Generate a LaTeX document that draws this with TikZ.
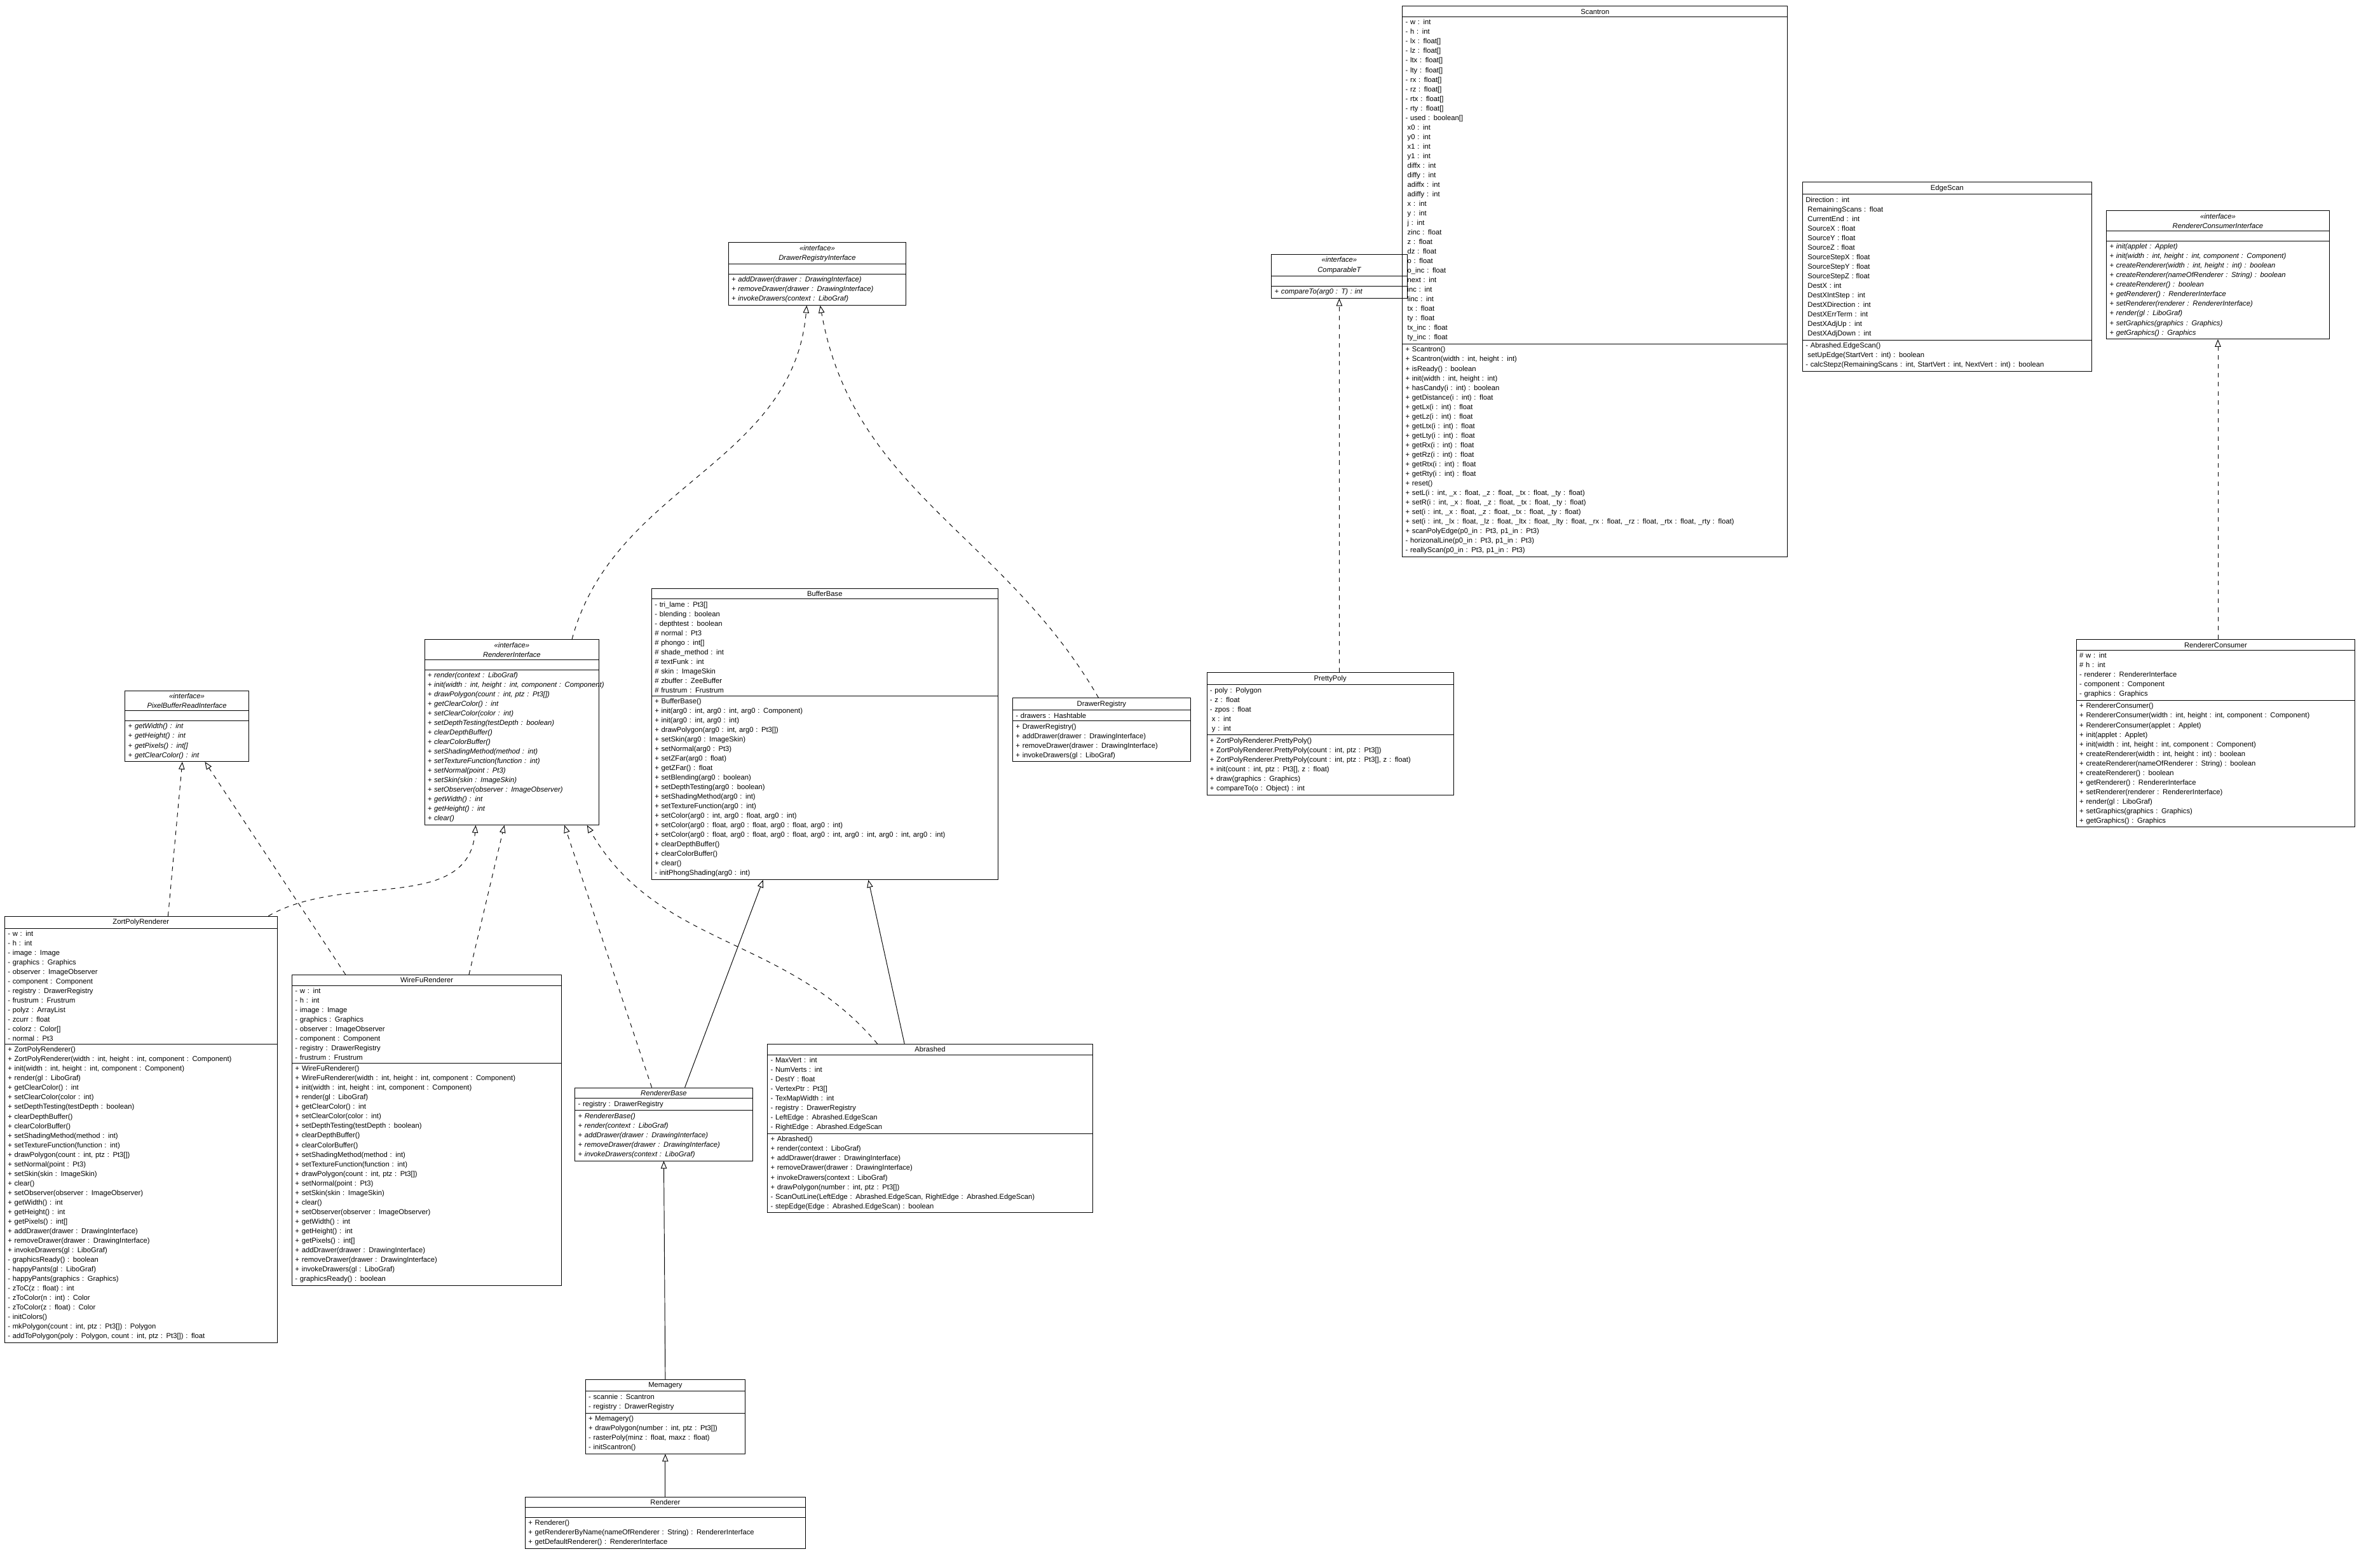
\documentclass[tikz,border=0pt]{standalone}
\usepackage{fontspec}
\setmainfont{Liberation Sans}
\usetikzlibrary{arrows.meta,shapes.multipart}

\tikzset{
  umlclass/.style={draw, rectangle split, rectangle split parts=3, anchor=north west,
    text width=#1, align=left, inner xsep=2pt, inner ysep=1.6pt,
    font=\fontsize{4.75}{6.35}\selectfont},
  realize/.style={dash pattern=on 3pt off 3pt, -{Triangle[open,length=5pt,width=4pt]}},
  inherit/.style={-{Triangle[open,length=5pt,width=4pt]}}
}
\newcommand{\emptypart}{\rule{0pt}{3pt}}
\newcommand{\ctitle}[1]{\makebox[\linewidth]{#1}}
\newcommand{\ind}{\hspace*{1.3pt}}

\begin{document}
\begin{tikzpicture}[x=1pt,y=-1pt]
  \useasboundingbox (0,0) rectangle (1568,1042.5);

  \node[umlclass=252] at (932,4) (scantron) {\ctitle{Scantron}
    \nodepart{two}- w : int\\- h : int\\- lx : float[]\\- lz : float[]\\- ltx : float[]\\- lty : float[]\\- rx : float[]\\- rz : float[]\\- rtx : float[]\\- rty : float[]\\- used : boolean[]\\\ind x0 : int\\\ind y0 : int\\\ind x1 : int\\\ind y1 : int\\\ind diffx : int\\\ind diffy : int\\\ind adiffx : int\\\ind adiffy : int\\\ind x : int\\\ind y : int\\\ind j : int\\\ind zinc : float\\\ind z : float\\\ind dz : float\\\ind o : float\\\ind o\_inc : float\\\ind next : int\\\ind inc : int\\\ind linc : int\\\ind tx : float\\\ind ty : float\\\ind tx\_inc : float\\\ind ty\_inc : float
    \nodepart{three}+ Scantron()\\+ Scantron(width : int, height : int)\\+ isReady() : boolean\\+ init(width : int, height : int)\\+ hasCandy(i : int) : boolean\\+ getDistance(i : int) : float\\+ getLx(i : int) : float\\+ getLz(i : int) : float\\+ getLtx(i : int) : float\\+ getLty(i : int) : float\\+ getRx(i : int) : float\\+ getRz(i : int) : float\\+ getRtx(i : int) : float\\+ getRty(i : int) : float\\+ reset()\\+ setL(i : int, \_x : float, \_z : float, \_tx : float, \_ty : float)\\+ setR(i : int, \_x : float, \_z : float, \_tx : float, \_ty : float)\\+ set(i : int, \_x : float, \_z : float, \_tx : float, \_ty : float)\\+ set(i : int, \_lx : float, \_lz : float, \_ltx : float, \_lty : float, \_rx : float, \_rz : float, \_rtx : float, \_rty : float)\\+ scanPolyEdge(p0\_in : Pt3, p1\_in : Pt3)\\- horizonalLine(p0\_in : Pt3, p1\_in : Pt3)\\- reallyScan(p0\_in : Pt3, p1\_in : Pt3)};

  \node[umlclass=188] at (1198,121) (edgescan) {\ctitle{EdgeScan}
    \nodepart{two}Direction : int\\\ind RemainingScans : float\\\ind CurrentEnd : int\\\ind SourceX : float\\\ind SourceY : float\\\ind SourceZ : float\\\ind SourceStepX : float\\\ind SourceStepY : float\\\ind SourceStepZ : float\\\ind DestX : int\\\ind DestXIntStep : int\\\ind DestXDirection : int\\\ind DestXErrTerm : int\\\ind DestXAdjUp : int\\\ind DestXAdjDown : int
    \nodepart{three}- Abrashed.EdgeScan()\\\ind setUpEdge(StartVert : int) : boolean\\- calcStepz(RemainingScans : int, StartVert : int, NextVert : int) : boolean};

  \node[umlclass=144] at (1400,140) (consumeriface) {\ctitle{\itshape «interface»}\\\ctitle{\itshape RendererConsumerInterface}
    \nodepart{two}\emptypart
    \nodepart{three}\itshape + init(applet : Applet)\\+ init(width : int, height : int, component : Component)\\+ createRenderer(width : int, height : int) : boolean\\+ createRenderer(nameOfRenderer : String) : boolean\\+ createRenderer() : boolean\\+ getRenderer() : RendererInterface\\+ setRenderer(renderer : RendererInterface)\\+ render(gl : LiboGraf)\\+ setGraphics(graphics : Graphics)\\+ getGraphics() : Graphics};

  \node[umlclass=86] at (845,169) (comparable) {\ctitle{\itshape «interface»}\\\ctitle{\itshape ComparableT}
    \nodepart{two}\emptypart
    \nodepart{three}\itshape + compareTo(arg0 : T) : int};

  \node[umlclass=114] at (484,161) (registryiface) {\ctitle{\itshape «interface»}\\\ctitle{\itshape DrawerRegistryInterface}
    \nodepart{two}\emptypart
    \nodepart{three}\itshape + addDrawer(drawer : DrawingInterface)\\+ removeDrawer(drawer : DrawingInterface)\\+ invokeDrawers(context : LiboGraf)};

  \node[umlclass=78] at (83,459) (pixeliface) {\ctitle{\itshape «interface»}\\\ctitle{\itshape PixelBufferReadInterface}
    \nodepart{two}\emptypart
    \nodepart{three}\itshape + getWidth() : int\\+ getHeight() : int\\+ getPixels() : int[]\\+ getClearColor() : int};

  \node[umlclass=112] at (282,425) (rendiface) {\ctitle{\itshape «interface»}\\\ctitle{\itshape RendererInterface}
    \nodepart{two}\emptypart
    \nodepart{three}\itshape + render(context : LiboGraf)\\\mbox{+ init(width : int, height : int, component : Component)}\\+ drawPolygon(count : int, ptz : Pt3[])\\+ getClearColor() : int\\+ setClearColor(color : int)\\+ setDepthTesting(testDepth : boolean)\\+ clearDepthBuffer()\\+ clearColorBuffer()\\+ setShadingMethod(method : int)\\+ setTextureFunction(function : int)\\+ setNormal(point : Pt3)\\+ setSkin(skin : ImageSkin)\\+ setObserver(observer : ImageObserver)\\+ getWidth() : int\\+ getHeight() : int\\+ clear()};

  \node[umlclass=226] at (433,391) (bufferbase) {\ctitle{BufferBase}
    \nodepart{two}- tri\_lame : Pt3[]\\- blending : boolean\\- depthtest : boolean\\\# normal : Pt3\\\# phongo : int[]\\\# shade\_method : int\\\# textFunk : int\\\# skin : ImageSkin\\\# zbuffer : ZeeBuffer\\\# frustrum : Frustrum
    \nodepart{three}+ BufferBase()\\+ init(arg0 : int, arg0 : int, arg0 : Component)\\+ init(arg0 : int, arg0 : int)\\+ drawPolygon(arg0 : int, arg0 : Pt3[])\\+ setSkin(arg0 : ImageSkin)\\+ setNormal(arg0 : Pt3)\\+ setZFar(arg0 : float)\\+ getZFar() : float\\+ setBlending(arg0 : boolean)\\+ setDepthTesting(arg0 : boolean)\\+ setShadingMethod(arg0 : int)\\+ setTextureFunction(arg0 : int)\\+ setColor(arg0 : int, arg0 : float, arg0 : int)\\+ setColor(arg0 : float, arg0 : float, arg0 : float, arg0 : int)\\+ setColor(arg0 : float, arg0 : float, arg0 : float, arg0 : int, arg0 : int, arg0 : int, arg0 : int)\\+ clearDepthBuffer()\\+ clearColorBuffer()\\+ clear()\\- initPhongShading(arg0 : int)};

  \node[umlclass=114] at (673,464) (registry) {\ctitle{DrawerRegistry}
    \nodepart{two}- drawers : Hashtable
    \nodepart{three}+ DrawerRegistry()\\+ addDrawer(drawer : DrawingInterface)\\+ removeDrawer(drawer : DrawingInterface)\\+ invokeDrawers(gl : LiboGraf)};

  \node[umlclass=160] at (802,447) (prettypoly) {\ctitle{PrettyPoly}
    \nodepart{two}- poly : Polygon\\- z : float\\- zpos : float\\\ind x : int\\\ind y : int
    \nodepart{three}+ ZortPolyRenderer.PrettyPoly()\\+ ZortPolyRenderer.PrettyPoly(count : int, ptz : Pt3[])\\+ ZortPolyRenderer.PrettyPoly(count : int, ptz : Pt3[], z : float)\\+ init(count : int, ptz : Pt3[], z : float)\\+ draw(graphics : Graphics)\\+ compareTo(o : Object) : int};

  \node[umlclass=181] at (1380,425) (consumer) {\ctitle{RendererConsumer}
    \nodepart{two}\# w : int\\\# h : int\\- renderer : RendererInterface\\- component : Component\\- graphics : Graphics
    \nodepart{three}+ RendererConsumer()\\+ RendererConsumer(width : int, height : int, component : Component)\\+ RendererConsumer(applet : Applet)\\+ init(applet : Applet)\\+ init(width : int, height : int, component : Component)\\+ createRenderer(width : int, height : int) : boolean\\+ createRenderer(nameOfRenderer : String) : boolean\\+ createRenderer() : boolean\\+ getRenderer() : RendererInterface\\+ setRenderer(renderer : RendererInterface)\\+ render(gl : LiboGraf)\\+ setGraphics(graphics : Graphics)\\+ getGraphics() : Graphics};

  \node[umlclass=177] at (3,609) (zort) {\ctitle{ZortPolyRenderer}
    \nodepart{two}- w : int\\- h : int\\- image : Image\\- graphics : Graphics\\- observer : ImageObserver\\- component : Component\\- registry : DrawerRegistry\\- frustrum : Frustrum\\- polyz : ArrayList\\- zcurr : float\\- colorz : Color[]\\- normal : Pt3
    \nodepart{three}+ ZortPolyRenderer()\\+ ZortPolyRenderer(width : int, height : int, component : Component)\\+ init(width : int, height : int, component : Component)\\+ render(gl : LiboGraf)\\+ getClearColor() : int\\+ setClearColor(color : int)\\+ setDepthTesting(testDepth : boolean)\\+ clearDepthBuffer()\\+ clearColorBuffer()\\+ setShadingMethod(method : int)\\+ setTextureFunction(function : int)\\+ drawPolygon(count : int, ptz : Pt3[])\\+ setNormal(point : Pt3)\\+ setSkin(skin : ImageSkin)\\+ clear()\\+ setObserver(observer : ImageObserver)\\+ getWidth() : int\\+ getHeight() : int\\+ getPixels() : int[]\\+ addDrawer(drawer : DrawingInterface)\\+ removeDrawer(drawer : DrawingInterface)\\+ invokeDrawers(gl : LiboGraf)\\- graphicsReady() : boolean\\- happyPants(gl : LiboGraf)\\- happyPants(graphics : Graphics)\\- zToC(z : float) : int\\- zToColor(n : int) : Color\\- zToColor(z : float) : Color\\- initColors()\\- mkPolygon(count : int, ptz : Pt3[]) : Polygon\\- addToPolygon(poly : Polygon, count : int, ptz : Pt3[]) : float};

  \node[umlclass=175] at (194,648) (wirefu) {\ctitle{WireFuRenderer}
    \nodepart{two}- w : int\\- h : int\\- image : Image\\- graphics : Graphics\\- observer : ImageObserver\\- component : Component\\- registry : DrawerRegistry\\- frustrum : Frustrum
    \nodepart{three}+ WireFuRenderer()\\+ WireFuRenderer(width : int, height : int, component : Component)\\+ init(width : int, height : int, component : Component)\\+ render(gl : LiboGraf)\\+ getClearColor() : int\\+ setClearColor(color : int)\\+ setDepthTesting(testDepth : boolean)\\+ clearDepthBuffer()\\+ clearColorBuffer()\\+ setShadingMethod(method : int)\\+ setTextureFunction(function : int)\\+ drawPolygon(count : int, ptz : Pt3[])\\+ setNormal(point : Pt3)\\+ setSkin(skin : ImageSkin)\\+ clear()\\+ setObserver(observer : ImageObserver)\\+ getWidth() : int\\+ getHeight() : int\\+ getPixels() : int[]\\+ addDrawer(drawer : DrawingInterface)\\+ removeDrawer(drawer : DrawingInterface)\\+ invokeDrawers(gl : LiboGraf)\\- graphicsReady() : boolean};

  \node[umlclass=114] at (382,723) (rendbase) {\ctitle{\itshape RendererBase}
    \nodepart{two}- registry : DrawerRegistry
    \nodepart{three}\itshape + RendererBase()\\+ render(context : LiboGraf)\\+ addDrawer(drawer : DrawingInterface)\\+ removeDrawer(drawer : DrawingInterface)\\+ invokeDrawers(context : LiboGraf)};

  \node[umlclass=212] at (510,694) (abrashed) {\ctitle{Abrashed}
    \nodepart{two}- MaxVert : int\\- NumVerts : int\\- DestY : float\\- VertexPtr : Pt3[]\\- TexMapWidth : int\\- registry : DrawerRegistry\\- LeftEdge : Abrashed.EdgeScan\\- RightEdge : Abrashed.EdgeScan
    \nodepart{three}+ Abrashed()\\+ render(context : LiboGraf)\\+ addDrawer(drawer : DrawingInterface)\\+ removeDrawer(drawer : DrawingInterface)\\+ invokeDrawers(context : LiboGraf)\\+ drawPolygon(number : int, ptz : Pt3[])\\- ScanOutLine(LeftEdge : Abrashed.EdgeScan, RightEdge : Abrashed.EdgeScan)\\- stepEdge(Edge : Abrashed.EdgeScan) : boolean};

  \node[umlclass=102] at (389,917) (memagery) {\ctitle{Memagery}
    \nodepart{two}- scannie : Scantron\\- registry : DrawerRegistry
    \nodepart{three}+ Memagery()\\+ drawPolygon(number : int, ptz : Pt3[])\\- rasterPoly(minz : float, maxz : float)\\- initScantron()};

  \node[umlclass=182] at (349,995) (renderer) {\ctitle{Renderer}
    \nodepart{two}\emptypart
    \nodepart{three}+ Renderer()\\+ getRendererByName(nameOfRenderer : String) : RendererInterface\\+ getDefaultRenderer() : RendererInterface};

  % realizations
  \draw[realize] ([xshift=40pt]rendiface.north) to[out=75,in=-95] ([xshift=-7pt]registryiface.south);
  \draw[realize] ([xshift=-2pt]registry.north) to[out=120,in=-80] ([xshift=2pt]registryiface.south);
  \draw[realize] (prettypoly.north -| comparable.south) -- (comparable.south);
  \draw[realize] (consumer.north -| consumeriface.south) -- (consumeriface.south);
  \draw[realize] ([xshift=18pt]zort.north) -- ([xshift=-3pt]pixeliface.south);
  \draw[realize] ([xshift=-54pt]wirefu.north) -- ([xshift=12pt]pixeliface.south);
  \draw[realize] ([xshift=-6pt]zort.north east) to[out=30,in=-95] ([xshift=-24pt]rendiface.south);
  \draw[realize] ([xshift=28pt]wirefu.north) -- ([xshift=-5pt]rendiface.south);
  \draw[realize] ([xshift=-8pt]rendbase.north) -- ([xshift=35pt]rendiface.south);
  \draw[realize] ([xshift=-35pt]abrashed.north) to[out=130,in=-60] ([xshift=50pt]rendiface.south);
  % generalizations
  \draw[inherit] ([xshift=14pt]rendbase.north) -- ([xshift=-41pt]bufferbase.south);
  \draw[inherit] ([xshift=-17pt]abrashed.north) -- ([xshift=29pt]bufferbase.south);
  \draw[inherit] (memagery.north) -- (rendbase.south);
  \draw[inherit] (renderer.north) -- (memagery.south);
\end{tikzpicture}
\end{document}
